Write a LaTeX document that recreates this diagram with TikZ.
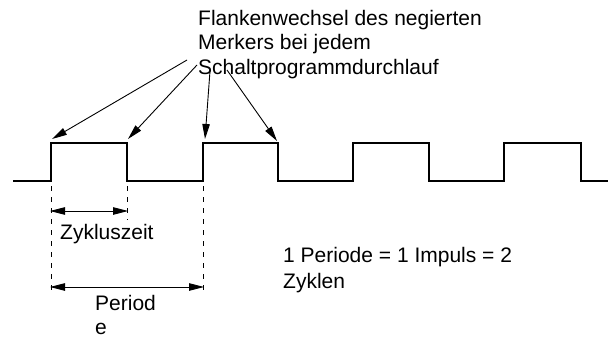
\documentclass[tikz,border=0pt]{standalone}
\usepackage{fontspec}
\setmainfont{Liberation Sans}
\usetikzlibrary{arrows.meta}
\newcommand{\lines}[1]{\begin{tabular}[t]{@{}l@{}}#1\end{tabular}}
\begin{document}
\begin{tikzpicture}[x=1pt,y=-1pt,
  lbl/.style={inner sep=0pt,anchor=base west,font=\fontsize{21}{24.5}\selectfont},
  sig/.style={line width=2.2pt,line join=miter},
  ptr/.style={line width=0.9pt,-{Triangle[length=15pt,width=7.5pt]}},
  dim/.style={line width=0.9pt,{Triangle[length=15pt,width=7.5pt]}-{Triangle[length=15pt,width=7.5pt]}},
  guide/.style={line width=0.9pt,dash pattern=on 5pt off 6pt}]
\useasboundingbox (0,0) rectangle (608,340);
% signal
\draw[sig] (13,181) -- (51,181) -- (51,143) -- (127,143) -- (127,181) -- (203,181) -- (203,143) -- (278,143) -- (278,181)
  -- (353,181) -- (353,143) -- (429,143) -- (429,181) -- (504,181) -- (504,143) -- (581,143) -- (581,181) -- (608,181);
% corners
\coordinate (e1) at (52,139);
\coordinate (e2) at (128,139);
\coordinate (e3) at (205,139);
\coordinate (e4) at (277,141);
% text
\node[lbl] (top) at (198,25) {\lines{Flankenwechsel des negierten\\Merkers bei jedem\\Schaltprogrammdurchlauf}};
\coordinate (s1) at (187,60);
\coordinate (s2) at (197,65);
\coordinate (s3) at (210,71);
\coordinate (s4) at (227,70);
\draw[ptr] (s1) -- (e1);
\draw[ptr] (s2) -- (e2);
\draw[ptr] (s3) -- (e3);
\draw[ptr] (s4) -- (e4);
% guides
\coordinate (g1a) at (51,186); \coordinate (g1b) at (51,295);
\coordinate (g2a) at (127,186); \coordinate (g2b) at (127,220);
\coordinate (g3a) at (203,186); \coordinate (g3b) at (203,295);
\draw[guide] (g1a) -- (g1b);
\draw[guide] (g2a) -- (g2b);
\draw[guide] (g3a) -- (g3b);
% dimensions
\coordinate (z1) at (50,211); \coordinate (z2) at (128,211);
\coordinate (p1) at (50,287); \coordinate (p2) at (204,287);
\draw[dim] (z1) -- (z2);
\draw[dim] (p1) -- (p2);
\node[lbl] (zyk) at (60,239) {Zykluszeit};
\node[lbl,font=\fontsize{21}{24}\selectfont] (per) at (95,310) {\lines{Period\\e}};
\node[lbl,font=\fontsize{21}{26}\selectfont] (eq) at (283,262) {\lines{1 Periode = 1 Impuls = 2\\Zyklen}};
\end{tikzpicture}
\end{document}
